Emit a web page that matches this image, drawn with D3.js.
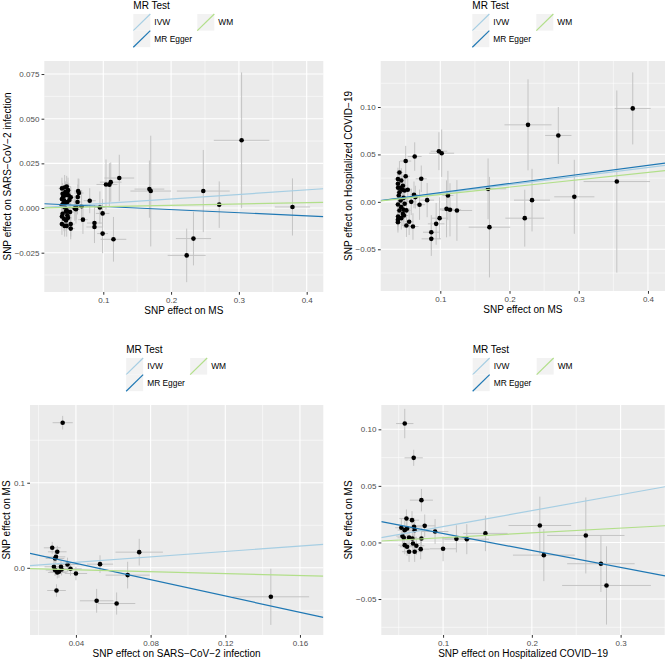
<!DOCTYPE html>
<html>
<head>
<meta charset="utf-8">
<script src="https://cdn.jsdelivr.net/npm/d3@7"></script>
<style>
  body { margin: 0; background: #fff; }
  svg text { font-family: "Liberation Sans", Arial, sans-serif; }
</style>
</head>
<body>
<script>
var width = 667;
var height = 661;

// ---- panel 1 : MS -> SARS-CoV-2 infection
var p1X = [0.304, 0.379, 0.271, 0.2475, 0.233, 0.223, 0.170, 0.168, 0.1236, 0.111, 0.109, 0.104, 0.115, 0.099, 0.099, 0.095, 0.087, 0.087, 0.080, 0.070, 0.068, 0.0629, 0.064, 0.0624, 0.0597, 0.062,
  0.039, 0.043, 0.046, 0.040, 0.044, 0.039, 0.042, 0.049, 0.052, 0.047, 0.039, 0.043, 0.046, 0.040, 0.039, 0.042, 0.045, 0.048, 0.047, 0.051, 0.052, 0.039, 0.043, 0.052, 0.046, 0.060, 0.058, 0.041, 0.044, 0.048, 0.050, 0.044, 0.045, 0.041, 0.047];
var p1Y = [0.0379, 0.0006, 0.0019, 0.0095, -0.0171, -0.0265, 0.0095, 0.0106, 0.0168, 0.0145, 0.0131, 0.0132, -0.0175, -0.0143, -0.003, 0.0003, -0.0084, -0.0106, 0.0041, -0.0065, 0.0010, 0.0095, 0.0084, 0.0062, -0.0007, 0.0034,
  0.0110, 0.0115, 0.0120, 0.0080, 0.0072, 0.0050, 0.0043, 0.0070, 0.0060, 0.0034, 0.0015, 0.0005, -0.0013, -0.0032, -0.0047, -0.0060, -0.0070, -0.0055, -0.0040, -0.0022, -0.0090, -0.0090, -0.0100, -0.0115, -0.0100, 0.0005, -0.0002, 0.0025, 0.0090, 0.0100, 0.0045, 0.0030, -0.0020, 0.0065, 0.0085];
var p1XSe = [0.041, 0.026, 0.008, 0.039, 0.026, 0.028, 0.030, 0.022, 0.022, 0.016, 0.012, 0.014, 0.019, 0.008, 0.010, 0.008, 0.011, 0.012, 0.009, 0.007, 0.010, 0.006, 0.007, 0.006, 0.006, 0.007,
  0.005, 0.005, 0.006, 0.004, 0.005, 0.004, 0.005, 0.006, 0.006, 0.005, 0.004, 0.005, 0.005, 0.004, 0.004, 0.005, 0.005, 0.006, 0.005, 0.006, 0.006, 0.004, 0.005, 0.006, 0.005, 0.006, 0.006, 0.004, 0.005, 0.005, 0.006, 0.005, 0.005, 0.004, 0.005];
var p1YSe = [0.038, 0.016, 0.013, 0.023, 0.015, 0.015, 0.031, 0.016, 0.013, 0.011, 0.012, 0.014, 0.0125, 0.011, 0.008, 0.009, 0.010, 0.009, 0.007, 0.008, 0.009, 0.007, 0.008, 0.007, 0.008, 0.007,
  0.006, 0.007, 0.006, 0.006, 0.007, 0.006, 0.006, 0.007, 0.006, 0.006, 0.006, 0.007, 0.006, 0.006, 0.006, 0.007, 0.006, 0.006, 0.006, 0.007, 0.007, 0.006, 0.006, 0.006, 0.006, 0.007, 0.007, 0.006, 0.006, 0.007, 0.006, 0.006, 0.007, 0.006, 0.006];

// ---- panel 2 : MS -> Hospitalized COVID-19
var p2X = [0.378, 0.355, 0.2267, 0.2705, 0.2936, 0.2325, 0.222, 0.171, 0.169, 0.098, 0.102, 0.111, 0.109, 0.114, 0.124, 0.099, 0.094, 0.087, 0.087, 0.081, 0.0725, 0.063, 0.050, 0.050, 0.070, 0.0605, 0.051, 0.055, 0.058, 0.062, 0.064,
  0.041, 0.0388, 0.0436, 0.0388, 0.046, 0.039, 0.045, 0.041, 0.0485, 0.040, 0.047, 0.053, 0.0427, 0.0388, 0.0436, 0.047, 0.041, 0.046, 0.039, 0.0436, 0.0388, 0.0388, 0.0475, 0.051, 0.0485, 0.042];
var p2Y = [0.0985, 0.0214, 0.0812, 0.070, 0.0053, 0.0018, -0.0172, -0.0267, 0.0137, 0.0534, 0.0513, 0.0067, -0.0074, -0.0084, -0.0091, -0.0172, -0.0232, -0.032, -0.039, 0.0018, 0.0243, 0.0478, 0.043, 0.027, -0.003, -0.026, -0.025, -0.021, 0.0, 0.0074, 0.005,
  0.031, 0.024, 0.0225, 0.019, 0.017, 0.0148, 0.0127, 0.010, 0.012, 0.0067, 0.0042, 0.0127, 0.0014, -0.0028, -0.0056, -0.0084, -0.0091, -0.0127, -0.0155, -0.0172, -0.019, -0.0214, -0.0144, -0.009, -0.002, 0.0148];
var p2XSe = [0.026, 0.048, 0.034, 0.019, 0.029, 0.026, 0.028, 0.030, 0.026, 0.012, 0.018, 0.008, 0.010, 0.016, 0.022, 0.012, 0.012, 0.012, 0.014, 0.010, 0.008, 0.010, 0.008, 0.006, 0.008, 0.008, 0.006, 0.006, 0.008, 0.006, 0.006,
  0.005, 0.005, 0.006, 0.004, 0.005, 0.004, 0.005, 0.005, 0.006, 0.004, 0.005, 0.006, 0.005, 0.004, 0.005, 0.006, 0.005, 0.005, 0.004, 0.005, 0.004, 0.004, 0.006, 0.006, 0.005, 0.005];
var p2YSe = [0.038, 0.096, 0.048, 0.030, 0.039, 0.033, 0.030, 0.053, 0.032, 0.020, 0.025, 0.026, 0.030, 0.028, 0.032, 0.022, 0.022, 0.018, 0.018, 0.018, 0.014, 0.015, 0.016, 0.014, 0.016, 0.014, 0.012, 0.014, 0.014, 0.014, 0.012,
  0.012, 0.012, 0.013, 0.011, 0.012, 0.011, 0.012, 0.011, 0.013, 0.011, 0.012, 0.013, 0.012, 0.011, 0.012, 0.013, 0.011, 0.012, 0.011, 0.012, 0.011, 0.011, 0.013, 0.013, 0.012, 0.012];

// ---- panel 3 : SARS-CoV-2 infection -> MS
var p3X = [0.0329, 0.1444, 0.0739, 0.0677, 0.0618, 0.0511, 0.0529, 0.0296, 0.0273, 0.030, 0.0293, 0.0288, 0.0282, 0.0288, 0.030, 0.0309, 0.032, 0.0323, 0.0355, 0.0371, 0.040];
var p3Y = [0.1706, -0.0341, 0.0184, -0.0086, -0.042, -0.0388, 0.0043, -0.0267, 0.0235, 0.0188, 0.0129, 0.011, 0.0012, -0.0027, -0.0055, -0.0047, 0.0012, -0.002, 0.0039, -0.0012, -0.0067];
var p3XSe = [0.0054, 0.0205, 0.0127, 0.0118, 0.010, 0.009, 0.007, 0.005, 0.0045, 0.005, 0.005, 0.005, 0.005, 0.005, 0.005, 0.005, 0.005, 0.005, 0.006, 0.006, 0.006];
var p3YSe = [0.008, 0.033, 0.0157, 0.0157, 0.013, 0.014, 0.0104, 0.0073, 0.007, 0.007, 0.007, 0.008, 0.007, 0.007, 0.007, 0.007, 0.007, 0.007, 0.008, 0.008, 0.008];

// ---- panel 4 : Hospitalized COVID-19 -> MS
var p4X = [0.0568, 0.0669, 0.0756, 0.209, 0.2135, 0.2608, 0.2778, 0.2841, 0.1477, 0.1267, 0.115, 0.100, 0.091, 0.0793,
  0.0587, 0.065, 0.053, 0.0568, 0.0594, 0.0673, 0.068, 0.0756, 0.0542, 0.0557, 0.0617, 0.0654, 0.0568, 0.0594, 0.0617, 0.068, 0.0661, 0.0699, 0.0748];
var p4Y = [0.1051, 0.0748, 0.0374, 0.015, -0.0112, 0.0062, -0.0188, -0.038, 0.0080, 0.0029, 0.0032, -0.0056, 0.0097, 0.0147,
  0.0212, 0.0197, 0.013, 0.0109, 0.0124, 0.0138, 0.0109, 0.0035, 0.0056, 0.0041, 0.0044, 0.0035, -0.0024, -0.0038, -0.0082, -0.0082, -0.0009, -0.0029, -0.0059];
var p4XSe = [0.0098, 0.0103, 0.013, 0.0353, 0.0348, 0.0436, 0.038, 0.050, 0.025, 0.025, 0.016, 0.015, 0.015, 0.012,
  0.008, 0.008, 0.007, 0.008, 0.008, 0.009, 0.009, 0.010, 0.007, 0.007, 0.008, 0.008, 0.007, 0.008, 0.008, 0.009, 0.008, 0.009, 0.010];
var p4YSe = [0.013, 0.0071, 0.0099, 0.0255, 0.023, 0.0336, 0.025, 0.0346, 0.0157, 0.0133, 0.012, 0.011, 0.011, 0.010,
  0.008, 0.008, 0.008, 0.008, 0.008, 0.008, 0.009, 0.009, 0.008, 0.008, 0.008, 0.008, 0.008, 0.008, 0.009, 0.009, 0.008, 0.008, 0.009];

// MR method lines (IVW, MR Egger, WM) : intercept and slope
var methods = ["IVW", "MR Egger", "WM"];
var methodColors = ["#a6cee3", "#1f78b4", "#b2df8a"];
var p1Intercept = [0, 0.00263, 0], p1Slope = [0.0254, -0.0175, 0.0075];
var p2Intercept = [0, 0.0001, 0], p2Slope = [0.0905, 0.096, 0.0777];
var p3Intercept = [0, 0.0243, 0], p3Slope = [0.16, -0.479, -0.057];
var p4Intercept = [0, 0.0229, 0], p4Slope = [0.1407, -0.150, 0.0422];

// tick values and labels
var p1XTicks = [0.1, 0.2, 0.3, 0.4], p1XLabels = ["0.1", "0.2", "0.3", "0.4"];
var p1YTicks = [-0.025, 0, 0.025, 0.05, 0.075], p1YLabels = ["\u22120.025", "0.000", "0.025", "0.050", "0.075"];
var p2XTicks = [0.1, 0.2, 0.3, 0.4], p2XLabels = ["0.1", "0.2", "0.3", "0.4"];
var p2YTicks = [-0.05, 0, 0.05, 0.10], p2YLabels = ["\u22120.05", "0.00", "0.05", "0.10"];
var p3XTicks = [0.04, 0.08, 0.12, 0.16], p3XLabels = ["0.04", "0.08", "0.12", "0.16"];
var p3YTicks = [0, 0.1], p3YLabels = ["0.0", "0.1"];
var p4XTicks = [0.1, 0.2, 0.3], p4XLabels = ["0.1", "0.2", "0.3"];
var p4YTicks = [-0.05, 0, 0.05, 0.10], p4YLabels = ["\u22120.05", "0.00", "0.05", "0.10"];

var svg = d3.select("body")
    .append("svg")
    .attr("width", width)
    .attr("height", height);

var panels = [
  { id: 1, left: 44.3, right: 323.3, top: 61, bottom: 292, xDomain: [0.013, 0.4245], yDomain: [-0.047, 0.0823],
    x: p1X, y: p1Y, xse: p1XSe, yse: p1YSe, a: p1Intercept, b: p1Slope,
    xTicks: p1XTicks, xLabels: p1XLabels, yTicks: p1YTicks, yLabels: p1YLabels,
    xTitle: "SNP effect on MS", yTitle: "SNP effect on SARS\u2212CoV\u22122 infection" },
  { id: 2, left: 380.7, right: 665, top: 61, bottom: 291, xDomain: [0.0139, 0.4246], yDomain: [-0.094, 0.1485],
    x: p2X, y: p2Y, xse: p2XSe, yse: p2YSe, a: p2Intercept, b: p2Slope,
    xTicks: p2XTicks, xLabels: p2XLabels, yTicks: p2YTicks, yLabels: p2YLabels,
    xTitle: "SNP effect on MS", yTitle: "SNP effect on Hospitalized COVID\u221219" },
  { id: 3, left: 30, right: 323.3, top: 405, bottom: 635, xDomain: [0.0154, 0.1725], yDomain: [-0.079, 0.1914],
    x: p3X, y: p3Y, xse: p3XSe, yse: p3YSe, a: p3Intercept, b: p3Slope,
    xTicks: p3XTicks, xLabels: p3XLabels, yTicks: p3YTicks, yLabels: p3YLabels,
    xTitle: "SNP effect on SARS\u2212CoV\u22122 infection", yTitle: "SNP effect on MS" },
  { id: 4, left: 381.3, right: 665, top: 405, bottom: 635, xDomain: [0.0304, 0.350], yDomain: [-0.0818, 0.1215],
    x: p4X, y: p4Y, xse: p4XSe, yse: p4YSe, a: p4Intercept, b: p4Slope,
    xTicks: p4XTicks, xLabels: p4XLabels, yTicks: p4YTicks, yLabels: p4YLabels,
    xTitle: "SNP effect on Hospitalized COVID\u221219", yTitle: "SNP effect on MS" }
];

// minor breaks halfway between the major ones
function minorBreaks(ticks, domain) {
  var step = ticks[1] - ticks[0];
  var out = [];
  for (var v = ticks[0] - step / 2; v <= domain[1]; v += step) {
    if (v >= domain[0]) out.push(v);
  }
  return out;
}

function drawPanel(p) {
  var xScale = d3.scaleLinear().domain(p.xDomain).range([p.left, p.right]);
  var yScale = d3.scaleLinear().domain(p.yDomain).range([p.bottom, p.top]);
  var g = svg.append("g");

  g.append("clipPath").attr("id", "clip" + p.id)
    .append("rect")
    .attr("x", p.left).attr("y", p.top)
    .attr("width", p.right - p.left).attr("height", p.bottom - p.top);

  // panel background
  g.append("rect")
    .attr("x", p.left).attr("y", p.top)
    .attr("width", p.right - p.left).attr("height", p.bottom - p.top)
    .attr("fill", "#ebebeb");

  // grid
  var grid = g.append("g").attr("stroke", "#fff");
  grid.selectAll(".minx").data(minorBreaks(p.xTicks, p.xDomain)).enter().append("line")
    .attr("x1", xScale).attr("x2", xScale).attr("y1", p.top).attr("y2", p.bottom).attr("stroke-width", 0.55);
  grid.selectAll(".miny").data(minorBreaks(p.yTicks, p.yDomain)).enter().append("line")
    .attr("y1", yScale).attr("y2", yScale).attr("x1", p.left).attr("x2", p.right).attr("stroke-width", 0.55);
  grid.selectAll(".majx").data(p.xTicks).enter().append("line")
    .attr("x1", xScale).attr("x2", xScale).attr("y1", p.top).attr("y2", p.bottom).attr("stroke-width", 1.1);
  grid.selectAll(".majy").data(p.yTicks).enter().append("line")
    .attr("y1", yScale).attr("y2", yScale).attr("x1", p.left).attr("x2", p.right).attr("stroke-width", 1.1);

  var idx = d3.range(p.x.length);
  var marks = g.append("g").attr("clip-path", "url(#clip" + p.id + ")");

  // error bars
  marks.selectAll(".ebv").data(idx).enter().append("line")
    .attr("x1", function (i) { return xScale(p.x[i]); })
    .attr("x2", function (i) { return xScale(p.x[i]); })
    .attr("y1", function (i) { return yScale(p.y[i] - p.yse[i]); })
    .attr("y2", function (i) { return yScale(p.y[i] + p.yse[i]); })
    .attr("stroke", "#c4c4c4").attr("stroke-width", 1);
  marks.selectAll(".ebh").data(idx).enter().append("line")
    .attr("y1", function (i) { return yScale(p.y[i]); })
    .attr("y2", function (i) { return yScale(p.y[i]); })
    .attr("x1", function (i) { return xScale(p.x[i] - p.xse[i]); })
    .attr("x2", function (i) { return xScale(p.x[i] + p.xse[i]); })
    .attr("stroke", "#c4c4c4").attr("stroke-width", 1);

  // points
  marks.selectAll(".pt").data(idx).enter().append("circle")
    .attr("cx", function (i) { return xScale(p.x[i]); })
    .attr("cy", function (i) { return yScale(p.y[i]); })
    .attr("r", 2.3)
    .attr("fill", "#000");

  // method lines
  marks.selectAll(".ab").data(d3.range(methods.length)).enter().append("line")
    .attr("x1", xScale(p.xDomain[0]))
    .attr("x2", xScale(p.xDomain[1]))
    .attr("y1", function (k) { return yScale(p.a[k] + p.b[k] * p.xDomain[0]); })
    .attr("y2", function (k) { return yScale(p.a[k] + p.b[k] * p.xDomain[1]); })
    .attr("stroke", function (k) { return methodColors[k]; })
    .attr("stroke-width", 1.2);

  // axes
  var xAxis = d3.axisBottom(xScale).tickValues(p.xTicks)
    .tickFormat(function (d, i) { return p.xLabels[i]; })
    .tickSize(2.75).tickPadding(2.2);
  var yAxis = d3.axisLeft(yScale).tickValues(p.yTicks)
    .tickFormat(function (d, i) { return p.yLabels[i]; })
    .tickSize(2.75).tickPadding(2.2);

  var gx = g.append("g").attr("transform", "translate(0," + p.bottom + ")").call(xAxis);
  var gy = g.append("g").attr("transform", "translate(" + p.left + ",0)").call(yAxis);
  [gx, gy].forEach(function (a) {
    a.select(".domain").remove();
    a.selectAll(".tick line").attr("stroke", "#333").attr("stroke-width", 1);
    a.selectAll(".tick text").attr("fill", "#4d4d4d").attr("font-size", 8)
      .style("font-family", "'Liberation Sans', Arial, sans-serif");
  });

  var maxW = 0;
  gy.selectAll(".tick text").each(function () { maxW = Math.max(maxW, this.getComputedTextLength()); });

  // axis titles
  g.append("text")
    .attr("x", (p.left + p.right) / 2)
    .attr("y", p.bottom + 18.5)
    .attr("dy", "0.35em")
    .attr("text-anchor", "middle")
    .attr("font-size", 10)
    .attr("fill", "#000")
    .text(p.xTitle);
  var tx = p.left - 4.95 - maxW - 7.5;
  var ty = (p.top + p.bottom) / 2;
  g.append("text")
    .attr("transform", "translate(" + tx + "," + ty + ") rotate(-90)")
    .attr("dy", "0.35em")
    .attr("text-anchor", "middle")
    .attr("font-size", 10)
    .attr("fill", "#000")
    .text(p.yTitle);

  // legend above the panel
  var lx = (p.left + p.right) / 2 - 50.5;
  var ly = p.top - 61;
  var lg = svg.append("g").attr("transform", "translate(" + lx + "," + ly + ")");
  lg.append("text").attr("x", 0).attr("y", 8.6).attr("font-size", 10).text("MR Test");
  var keyPos = [[0, 14], [0, 30.6], [64, 14]];
  methods.forEach(function (m, k) {
    var kx = keyPos[k][0], ky = keyPos[k][1];
    lg.append("rect").attr("x", kx).attr("y", ky).attr("width", 17).attr("height", 16.6).attr("fill", "#f2f2f2");
    lg.append("line")
      .attr("x1", kx).attr("y1", ky + 16.6)
      .attr("x2", kx + 17).attr("y2", ky)
      .attr("stroke", methodColors[k]).attr("stroke-width", 1.2);
    lg.append("text")
      .attr("x", kx + 21).attr("y", ky + 8.3)
      .attr("dy", "0.35em")
      .attr("font-size", 8.4)
      .text(m);
  });
}

panels.forEach(drawPanel);
</script>
</body>
</html>
